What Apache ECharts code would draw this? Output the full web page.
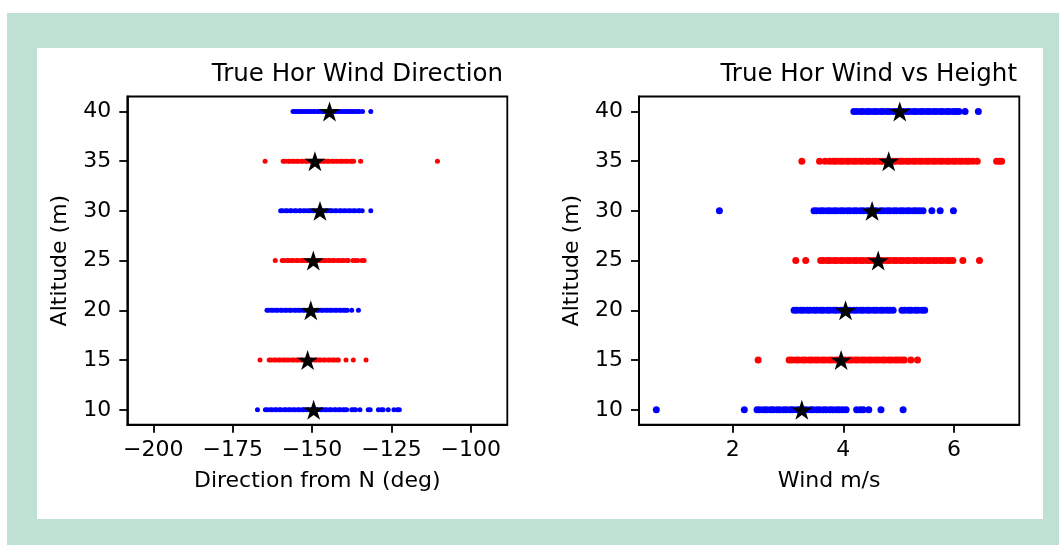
<!DOCTYPE html>
<html>
<head>
<meta charset="utf-8">
<script src="https://cdn.jsdelivr.net/npm/echarts@6/dist/echarts.min.js"></script>
<style>
  html, body { margin: 0; padding: 0; background: #ffffff; }
  #bg { position: absolute; left: 7px; top: 13px; width: 1052px; height: 532px; background: #bfe1d3; }
  #panel { position: absolute; left: 37px; top: 48px; width: 1006px; height: 471px; background: #ffffff; }
  #chart { position: absolute; left: 0; top: 0; width: 1059px; height: 545px; }
</style>
</head>
<body>
<div id="bg"></div>
<div id="panel"></div>
<div id="chart"></div>
<script>
// ---------- data ----------
const levels = [10, 15, 20, 25, 30, 35, 40];
const levelColors = ['blue', 'red', 'blue', 'red', 'blue', 'red', 'blue'];

// wind direction (deg from N), per altitude
const dir10 = [-167.2,-164.7,-164.1,-163.2,-162.6,-161.7,-161.2,-160.3,-159.8,-158.8,-158.3,-157.4,-156.9,-156.0,-155.4,-154.5,-154.0,-153.1,-152.6,-151.7,-151.1,-150.2,-149.7,-148.8,-148.3,-147.3,-146.8,-145.9,-145.4,-144.5,-144.0,-143.0,-142.5,-141.6,-141.1,-140.2,-139.7,-139.1,-137.5,-136.9,-136.3,-134.9,-132.3,-131.7,-129.1,-128.2,-127.6,-126.0,-124.2,-123.1,-122.5];
const dir15 = [-166.4,-163.5,-162.9,-162.0,-161.5,-160.6,-160.1,-159.2,-158.6,-157.8,-157.2,-156.3,-155.8,-154.9,-154.4,-153.5,-153.0,-152.1,-151.6,-150.6,-150.1,-149.2,-148.7,-147.8,-147.3,-146.4,-145.9,-144.9,-144.4,-143.5,-143.0,-142.2,-141.7,-139.3,-137.0,-133.0];
const dir20 = [-164.2,-163.7,-162.8,-162.2,-161.3,-160.9,-159.9,-159.4,-158.5,-158.0,-157.1,-156.6,-155.6,-155.1,-154.3,-153.7,-152.8,-152.3,-151.4,-150.9,-150.0,-149.5,-148.5,-148.0,-147.1,-146.6,-145.7,-145.1,-144.3,-143.7,-142.8,-142.3,-141.4,-140.8,-140.0,-139.5,-138.9,-137.5,-135.4];
const dir25 = [-161.6,-159.4,-158.7,-157.8,-157.3,-156.4,-155.9,-154.9,-154.5,-153.5,-153.0,-152.1,-151.6,-150.6,-150.2,-149.2,-148.7,-147.8,-147.3,-146.4,-145.8,-144.9,-144.4,-143.5,-143.0,-142.0,-141.5,-140.6,-140.1,-139.2,-138.6,-137.1,-136.4,-135.6,-134.3,-133.6];
const dir30 = [-159.9,-159.3,-158.4,-157.8,-156.9,-156.5,-155.5,-155.0,-154.0,-153.6,-152.7,-152.1,-151.3,-150.7,-149.8,-149.4,-148.4,-147.9,-147.1,-146.5,-145.6,-145.1,-144.2,-143.7,-142.8,-142.3,-141.3,-140.9,-140.0,-139.4,-138.5,-137.9,-137.0,-136.4,-135.4,-135.0,-134.2,-131.5];
const dir35 = [-164.8,-159.1,-158.5,-157.5,-157.1,-156.2,-155.6,-154.8,-154.3,-153.3,-153.0,-152.0,-151.6,-150.7,-150.1,-149.3,-148.8,-147.9,-147.4,-146.6,-146.0,-145.1,-144.7,-143.7,-143.3,-142.4,-141.8,-140.9,-140.4,-139.5,-138.9,-137.9,-137.5,-136.9,-134.7,-110.5];
const dir40 = [-156.0,-155.4,-154.8,-154.2,-153.5,-152.9,-152.2,-151.6,-150.9,-150.3,-149.5,-149.1,-148.2,-147.8,-146.9,-146.4,-145.7,-145.0,-144.4,-143.8,-143.0,-142.5,-141.8,-141.1,-140.5,-139.8,-139.2,-138.5,-137.9,-137.2,-136.6,-135.8,-135.1,-134.1,-131.5];
const dirMean = [-149.5, -151.4, -150.4, -149.6, -147.5, -149.1, -144.5];

// wind speed (m/s), per altitude
const spd10 = [0.62,2.21,2.44,2.49,2.56,2.61,2.68,2.73,2.80,2.85,2.92,2.97,3.04,3.09,3.16,3.21,3.28,3.33,3.40,3.45,3.52,3.57,3.64,3.69,3.76,3.81,3.88,3.93,3.99,4.05,4.24,4.31,4.36,4.46,4.68,5.08];
const spd15 = [2.46,3.02,3.07,3.14,3.19,3.26,3.31,3.38,3.43,3.50,3.55,3.62,3.67,3.74,3.79,3.86,3.91,3.98,4.03,4.10,4.15,4.22,4.27,4.34,4.39,4.46,4.51,4.58,4.63,4.70,4.75,4.82,4.87,4.94,4.99,5.05,5.10,5.22,5.34];
const spd20 = [3.11,3.16,3.23,3.28,3.35,3.40,3.47,3.52,3.59,3.64,3.71,3.76,3.83,3.88,3.95,4.00,4.07,4.12,4.19,4.24,4.31,4.36,4.43,4.48,4.55,4.60,4.67,4.72,4.79,4.84,4.90,5.06,5.11,5.18,5.23,5.30,5.35,5.42,5.47];
const spd25 = [3.14,3.32,3.59,3.64,3.71,3.76,3.83,3.88,3.95,4.00,4.07,4.12,4.19,4.24,4.31,4.36,4.43,4.48,4.55,4.60,4.67,4.72,4.79,4.84,4.91,4.96,5.03,5.08,5.15,5.20,5.27,5.32,5.39,5.44,5.51,5.56,5.63,5.68,5.75,5.80,5.87,5.92,5.98,6.16,6.46];
const spd30 = [1.76,3.47,3.52,3.59,3.64,3.71,3.76,3.83,3.88,3.95,4.00,4.07,4.12,4.19,4.24,4.31,4.36,4.43,4.48,4.55,4.60,4.67,4.72,4.79,4.84,4.91,4.96,5.03,5.08,5.15,5.20,5.27,5.32,5.38,5.44,5.60,5.75,5.99];
const spd35 = [3.25,3.57,3.67,3.75,3.82,3.87,3.94,3.99,4.06,4.11,4.18,4.23,4.30,4.35,4.42,4.47,4.54,4.59,4.66,4.71,4.78,4.83,4.90,4.95,5.02,5.07,5.14,5.19,5.26,5.31,5.38,5.43,5.50,5.55,5.62,5.67,5.74,5.79,5.86,5.91,5.98,6.03,6.10,6.15,6.22,6.27,6.34,6.42,6.77,6.82,6.86];
const spd40 = [4.19,4.24,4.31,4.36,4.43,4.48,4.55,4.60,4.67,4.72,4.79,4.84,4.91,4.96,5.03,5.08,5.15,5.20,5.27,5.32,5.39,5.44,5.51,5.56,5.63,5.68,5.75,5.80,5.87,5.92,5.99,6.04,6.09,6.20,6.44];
const spdMean = [3.25, 3.96, 4.04, 4.63, 4.52, 4.82, 5.02];

const yTicks = [10, 15, 20, 25, 30, 35, 40];
const dirTicks = [-200, -175, -150, -125, -100];
const spdTicks = [2, 4, 6];

const dirByLevel = [dir10, dir15, dir20, dir25, dir30, dir35, dir40];
const spdByLevel = [spd10, spd15, spd20, spd25, spd30, spd35, spd40];

// ---------- styling helpers ----------
const FONT = 'DejaVu Sans';
const colorMap = { blue: '#0000ff', red: '#ff0000' };

function starPath() {
  const pts = [];
  for (let k = 0; k < 10; k++) {
    const r = (k % 2 === 0) ? 1 : 0.381966;
    const a = Math.PI / 2 + k * Math.PI / 5;
    pts.push([(r * Math.cos(a)).toFixed(4), (-r * Math.sin(a)).toFixed(4)]);
  }
  return 'path://M' + pts.map(p => p[0] + ' ' + p[1]).join(' L') + ' Z';
}
const STAR = starPath();
const fmt = v => String(v).replace('-', '\u2212');

function xAxisCfg(gridIndex, min, max, ticks, name) {
  return {
    type: 'value', gridIndex, min, max, name,
    nameLocation: 'middle', nameGap: 46,
    nameTextStyle: { fontFamily: FONT, fontSize: 22, color: '#000' },
    axisLine: { show: true, onZero: false, lineStyle: { color: '#000', width: 1.8 } },
    axisTick: { show: true, length: 8, customValues: ticks, lineStyle: { color: '#000', width: 1.8 } },
    axisLabel: { show: true, customValues: ticks, formatter: fmt, margin: 15,
      fontFamily: FONT, fontSize: 22, color: '#000' },
    splitLine: { show: false }
  };
}
function yAxisCfg(gridIndex) {
  return {
    type: 'value', gridIndex, min: 8.5, max: 41.5, name: 'Altitude (m)',
    nameLocation: 'middle', nameGap: 56,
    nameTextStyle: { fontFamily: FONT, fontSize: 22, color: '#000' },
    axisLine: { show: true, onZero: false, lineStyle: { color: '#000', width: 1.8 } },
    axisTick: { show: true, length: 8, customValues: yTicks, lineStyle: { color: '#000', width: 1.8 } },
    axisLabel: { show: true, customValues: yTicks, formatter: fmt, margin: 16,
      fontFamily: FONT, fontSize: 22, color: '#000' },
    splitLine: { show: false }
  };
}

const series = [];
levels.forEach((lv, i) => {
  series.push({
    type: 'scatter', xAxisIndex: 0, yAxisIndex: 0, symbol: 'circle', symbolSize: 5,
    itemStyle: { color: colorMap[levelColors[i]], opacity: 1 },
    data: dirByLevel[i].map(v => [v, lv]), silent: true, z: 2
  });
  series.push({
    type: 'scatter', xAxisIndex: 1, yAxisIndex: 1, symbol: 'circle', symbolSize: 7,
    itemStyle: { color: colorMap[levelColors[i]], opacity: 1 },
    data: spdByLevel[i].map(v => [v, lv]), silent: true, z: 2
  });
});
series.push({
  type: 'scatter', xAxisIndex: 0, yAxisIndex: 0, symbol: STAR, symbolSize: 21, symbolKeepAspect: true,
  itemStyle: { color: '#000', opacity: 1 }, data: levels.map((lv, i) => [dirMean[i], lv]), silent: true, z: 5
});
series.push({
  type: 'scatter', xAxisIndex: 1, yAxisIndex: 1, symbol: STAR, symbolSize: 21, symbolKeepAspect: true,
  itemStyle: { color: '#000', opacity: 1 }, data: levels.map((lv, i) => [spdMean[i], lv]), silent: true, z: 5
});

const chart = echarts.init(document.getElementById('chart'), null, { renderer: 'canvas' });
chart.setOption({
  animation: false,
  backgroundColor: 'transparent',
  textStyle: { fontFamily: FONT },
  title: [
    { text: 'True Hor Wind Direction', right: 556, top: 62, padding: 0,
      textStyle: { fontFamily: FONT, fontSize: 24.5, fontWeight: 'normal', color: '#000' } },
    { text: 'True Hor Wind vs Height', right: 42, top: 62, padding: 0,
      textStyle: { fontFamily: FONT, fontSize: 24.5, fontWeight: 'normal', color: '#000' } }
  ],
  grid: [
    { left: 127.3, right: 551.7, top: 96.5, bottom: 120.3, show: true, borderColor: '#000', borderWidth: 1.8, backgroundColor: 'transparent' },
    { left: 639, right: 39.7, top: 96.5, bottom: 120.3, show: true, borderColor: '#000', borderWidth: 1.8, backgroundColor: 'transparent' }
  ],
  xAxis: [
    xAxisCfg(0, -208.2, -88.5, dirTicks, 'Direction from N (deg)'),
    xAxisCfg(1, 0.307, 7.18, spdTicks, 'Wind m/s')
  ],
  yAxis: [yAxisCfg(0), yAxisCfg(1)],
  series
});
</script>
</body>
</html>
